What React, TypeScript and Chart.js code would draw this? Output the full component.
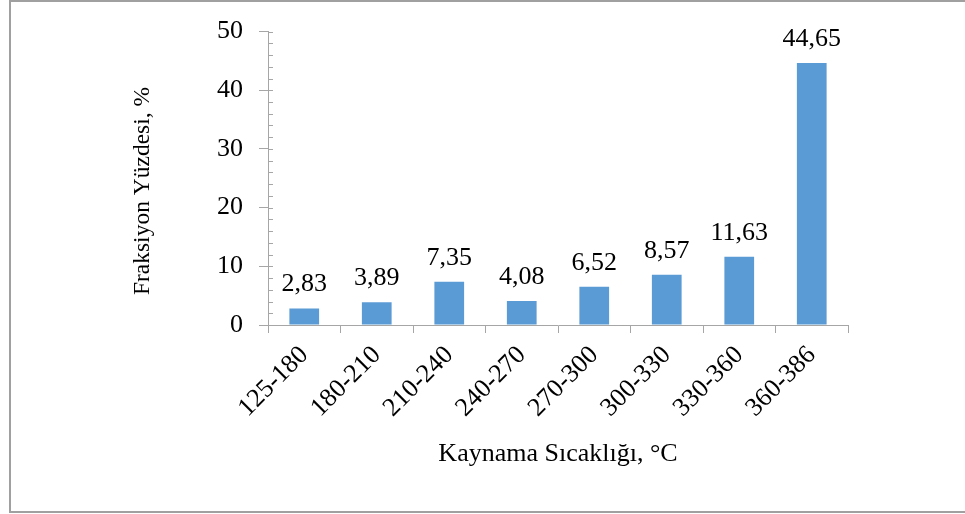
import React, { useEffect, useRef } from "react";
import { Chart, registerables } from "chart.js";

Chart.register(...registerables);

const categories = ["125-180", "180-210", "210-240", "240-270", "270-300", "300-330", "330-360", "360-386"];
const values = [2.83, 3.89, 7.35, 4.08, 6.52, 8.57, 11.63, 44.65];
const yTicks = [0, 10, 20, 30, 40, 50];
const yTitle = "Fraksiyon Yüzdesi, %";
const xTitle = "Kaynama Sıcaklığı, °C";

const FONT = "'Liberation Serif', 'Times New Roman', serif";
const AXIS = "#A6A6A6";

const extras = {
  id: "extras",
  afterDraw(chart: any) {
    const ctx = chart.ctx;
    const area = chart.chartArea;
    const ys = chart.scales.y;
    ctx.save();
    // outer frame
    ctx.strokeStyle = "#A0A0A0";
    ctx.lineWidth = 2;
    ctx.beginPath();
    ctx.moveTo(chart.width + 5, 1);
    ctx.lineTo(10, 1);
    ctx.lineTo(10, 512);
    ctx.lineTo(chart.width + 5, 512);
    ctx.stroke();
    // minor ticks
    ctx.strokeStyle = AXIS;
    ctx.lineWidth = 1;
    for (let v = 0; v <= 50; v += 2) {
      const y = Math.round(ys.getPixelForValue(v)) + 0.5;
      ctx.beginPath();
      ctx.moveTo(area.left, y);
      ctx.lineTo(area.left + 5, y);
      ctx.stroke();
    }
    // data labels
    ctx.fillStyle = "#000";
    ctx.font = `26px ${FONT}`;
    ctx.textAlign = "center";
    ctx.textBaseline = "alphabetic";
    const meta = chart.getDatasetMeta(0);
    meta.data.forEach((bar: any, i: number) => {
      ctx.fillText(values[i].toFixed(2).replace(".", ","), bar.x, bar.y - 17);
    });
    // axis titles
    ctx.font = `26px ${FONT}`;
    ctx.fillText(xTitle, (area.left + area.right) / 2, 461);
    ctx.save();
    ctx.translate(149, 191);
    ctx.rotate(-Math.PI / 2);
    ctx.font = `23.5px ${FONT}`;
    ctx.fillText(yTitle, 0, 0);
    ctx.restore();
    ctx.restore();
  },
};

export default function App() {
  const ref = useRef<HTMLCanvasElement>(null);
  useEffect(() => {
    if (!ref.current) return;
    const chart = new Chart(ref.current, {
      type: "bar",
      data: {
        labels: categories,
        datasets: [
          {
            data: values,
            backgroundColor: "#5B9BD5",
            barPercentage: 0.41,
            categoryPercentage: 1,
          },
        ],
      },
      options: {
        animation: false,
        responsive: false,
        maintainAspectRatio: false,
        layout: { padding: { left: 0, right: 117, top: 27, bottom: 0 } },
        plugins: { legend: { display: false }, tooltip: { enabled: false } },
        scales: {
          x: {
            type: "category",
            offset: true,
            grid: { offset: true, drawOnChartArea: false, tickLength: 8, color: AXIS },
            border: { color: AXIS },
            ticks: { minRotation: 45, maxRotation: 45, padding: 7, color: "#000", font: { family: FONT, size: 26 } },
            afterFit: (s: any) => { s.height = 189; },
          },
          y: {
            min: 0,
            max: 50,
            afterBuildTicks: (s: any) => { s.ticks = yTicks.map((v) => ({ value: v })); },
            grid: { drawOnChartArea: false, tickLength: 9, color: AXIS },
            border: { color: AXIS },
            ticks: { padding: 16, color: "#000", font: { family: FONT, size: 26 } },
            afterFit: (s: any) => { s.width = 268; },
          },
        },
      },
      plugins: [extras],
    });
    return () => chart.destroy();
  }, []);
  return (
    <div style={{ position: "fixed", left: 0, top: 0, width: 965, height: 514, background: "#fff" }}>
      <canvas ref={ref} width={965} height={514} style={{ width: 965, height: 514 }} />
    </div>
  );
}
